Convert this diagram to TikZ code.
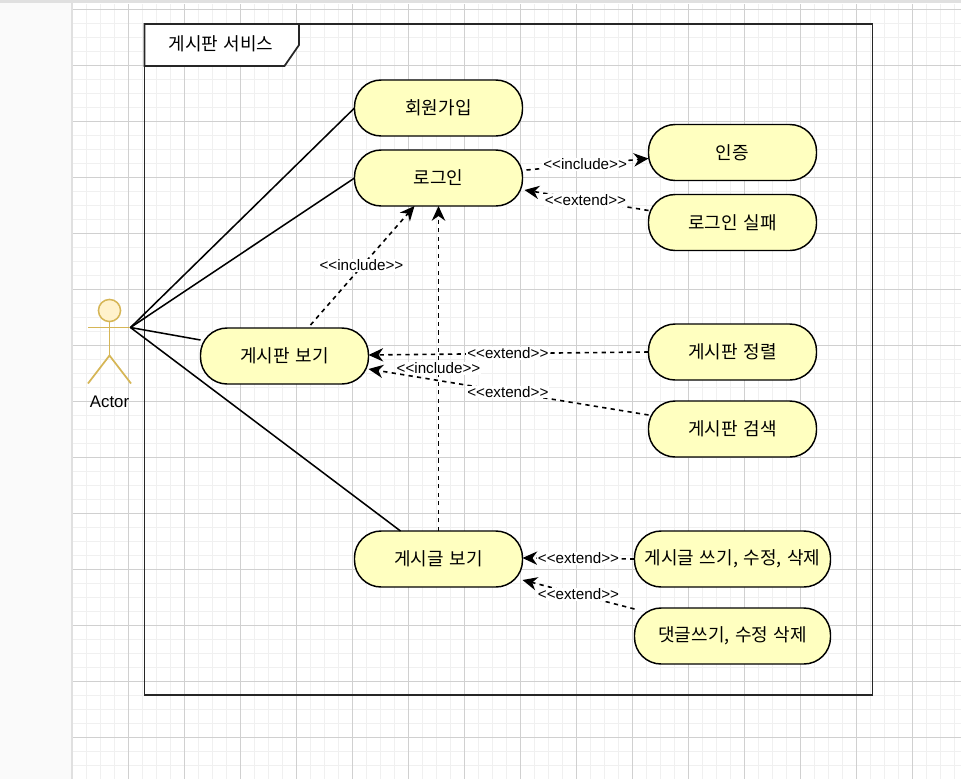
\documentclass[tikz,border=0pt]{standalone}
\usepackage{fontspec}
\setmainfont{Liberation Sans}
\newfontfamily\krfont[WordSpace=1.35]{Noto Sans CJK KR}
\usetikzlibrary{arrows.meta,calc}
\definecolor{gridmajor}{HTML}{D0D0D0}
\definecolor{gridminor}{HTML}{F0F0F0}
\definecolor{ucfill}{HTML}{FFFFC0}
\definecolor{actfill}{HTML}{FFF2CC}
\definecolor{actline}{HTML}{D6B656}
\newcommand{\stereo}[1]{<{}<#1>{}>}
\tikzset{
  usecase/.style={draw=black,fill=ucfill,line width=1.1pt,rounded corners=20pt,
    minimum height=42pt,minimum width=126pt,inner sep=0pt,outer sep=0pt,
    font=\krfont\fontsize{13.5pt}{16pt}\selectfont},
  usecasewide/.style={usecase,minimum width=147pt},
  assoc/.style={draw=black,line width=1.15pt},
  dep/.style={draw=black,line width=1.2pt,dash pattern=on 3.2pt off 3.2pt,
    -{Stealth[length=11pt,width=10pt,inset=3.5pt]}},
  deplabel/.style={fill=white,inner sep=0.6pt,font=\fontsize{11.4pt}{13pt}\selectfont,midway},
  actorline/.style={draw=actline,line width=1.3pt},
  axisline/.style={line width=1.4pt},
}
\begin{document}
\begin{tikzpicture}[x=0.75pt,y=-0.75pt]
\useasboundingbox (0,0) rectangle (961,779);
% editor background
\fill[white] (0,0) rectangle (961,779);
\fill[black!2] (0,0) rectangle (72,779);
\fill[black!12] (71,3) rectangle (73,779);
\foreach \gx in {86,100,114,142,156,170,198,212,226,254,268,282,310,324,338,366,380,394,422,436,450,478,492,506,534,548,562,590,604,618,646,660,674,702,716,730,758,772,786,814,828,842,870,884,898,926,940,954}
  \draw[gridminor,line width=0.75pt] (\gx,4) -- (\gx,779);
\foreach \gy in {23,37,51,79,93,107,135,149,163,191,205,219,247,261,275,303,317,331,359,373,387,415,429,443,471,485,499,527,541,555,583,597,611,639,653,667,695,709,723,751,765}
  \draw[gridminor,line width=0.75pt] (73,\gy) -- (961,\gy);
\foreach \gx in {128,184,...,912}
  \draw[gridmajor,line width=0.75pt] (\gx,4) -- (\gx,779);
\foreach \gy in {9,65,...,737}
  \draw[gridmajor,line width=0.75pt] (73,\gy) -- (961,\gy);
\fill[black!12] (0,0) rectangle (961,3);
% frame
\draw[black!85,line width=1.3pt] (144.5,24) rectangle (872.5,695);
\draw[black!85,line width=1.3pt,fill=white] (144.5,24) -- (299,24) -- (299,45) -- (284.5,66) -- (144.5,66) -- cycle;
\node[font=\krfont\fontsize{13.5pt}{15pt}\selectfont,inner sep=0pt] (frametitle) at (221,44) {게시판 서비스};
% use cases
\node[usecase] (signup) at (438.5,108) {회원가입};
\node[usecase] (login) at (438.5,178) {로그인};
\node[usecase] (auth) at (732.5,152.5) {인증};
\node[usecase] (fail) at (732.5,222.5) {로그인 실패};
\node[usecase] (board) at (284.5,356) {게시판 보기};
\node[usecase] (sort) at (732.5,352) {게시판 정렬};
\node[usecase] (search) at (732.5,429) {게시판 검색};
\node[usecase] (post) at (438.5,559) {게시글 보기};
\node[usecasewide] (write) at (732.5,559) {게시글 쓰기, 수정, 삭제};
\node[usecasewide] (reply) at (732.5,636) {댓글쓰기, 수정 삭제};
% actor
\coordinate (hand) at (130.5,327.5);
\node[circle,draw=actline,fill=actfill,line width=1.15pt,minimum size=16.6pt,inner sep=0pt,outer sep=0pt] (head) at (109.5,310.5) {};
\coordinate (hip) at (109.5,355.5);
\coordinate (handl) at (88,327.5);
\coordinate (footl) at (88,383.5);
\coordinate (footr) at (131,383.5);
\draw[actorline] (head.south) -- (hip);
\draw[actorline,axisline] (handl) -- (hand);
\draw[actorline] (footl) -- (hip) -- (footr);
\node[font=\fontsize{12.6pt}{15pt}\selectfont,inner sep=0pt] (actor) at (109.5,402) {Actor};
% associations
\draw[assoc] (hand) -- (signup.west);
\draw[assoc] (hand) -- (login.west);
\draw[assoc] (hand) -- ($(board.west)+(0,-16)$);
\draw[assoc] (hand) -- ($(post.north)+(-38,0)$);
% dependencies
\draw[dep] ($(board.north)+(26,-3)$) -- node[deplabel,xshift=-0.8pt]{\stereo{include}} ($(login.south)+(-24,0)$);
\draw[dep,axisline] (post.north) -- node[deplabel]{\stereo{include}} (login.south);
\draw[dep] ($(login.east)+(4,-8)$) -- node[deplabel,xshift=-1.8pt]{\stereo{include}} ($(auth.west)+(0,6)$);
\draw[dep] ($(fail.west)+(0,-12)$) -- node[deplabel,xshift=-0.8pt]{\stereo{extend}} ($(login.east)+(2,12)$);
\draw[dep] (sort.west) -- node[deplabel,xshift=-0.5pt]{\stereo{extend}} ($(board.east)+(0,-1)$);
\draw[dep] ($(search.west)+(0,-14)$) -- node[deplabel,xshift=-0.5pt]{\stereo{extend}} ($(board.east)+(0,13)$);
\draw[dep] (write.west) -- node[deplabel]{\stereo{extend}} ($(post.east)+(0,-1)$);
\draw[dep] ($(reply.west)+(0,-27)$) -- node[deplabel]{\stereo{extend}} ($(post.east)+(0,21)$);
\end{tikzpicture}
\end{document}
